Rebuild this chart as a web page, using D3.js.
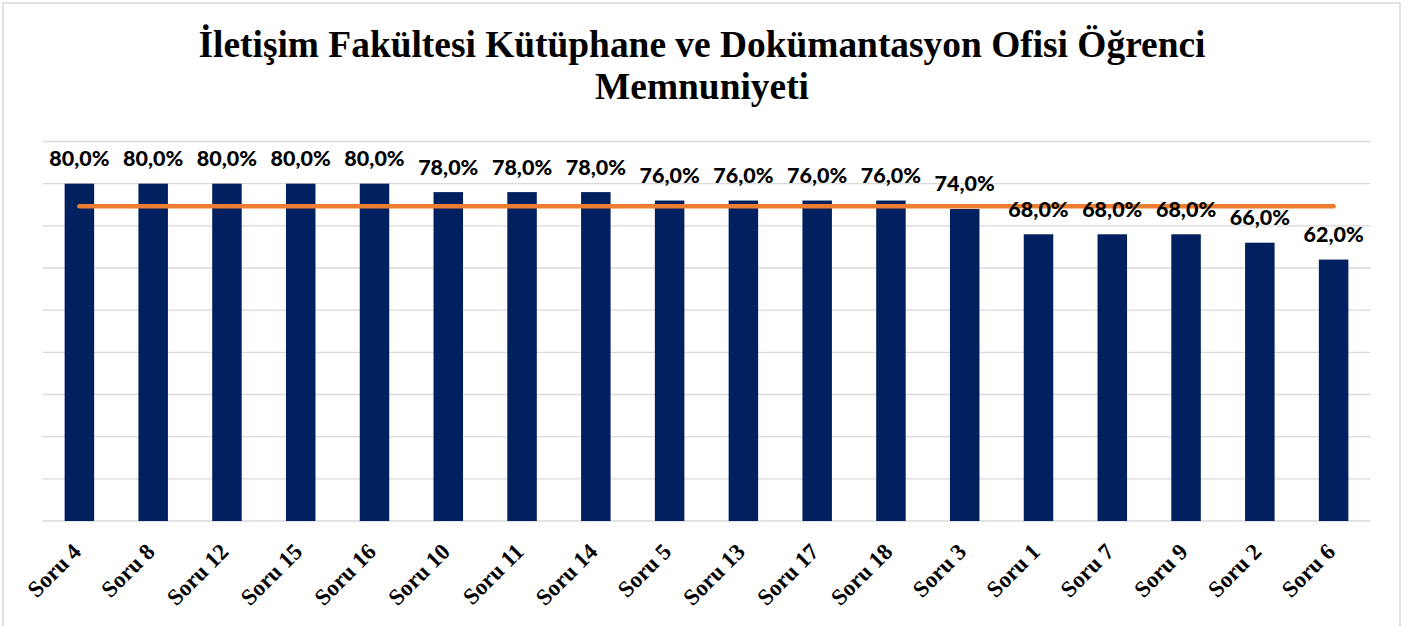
<!DOCTYPE html>
<html><head><meta charset="utf-8">
<script src="https://cdn.jsdelivr.net/npm/d3@7"></script>
<style>html,body{margin:0;padding:0;background:#fff;overflow:hidden}</style>
</head><body>
<svg id="c" width="1409" height="626"></svg>
<script>
const categories = ["Soru 4","Soru 8","Soru 12","Soru 15","Soru 16","Soru 10","Soru 11","Soru 14","Soru 5","Soru 13","Soru 17","Soru 18","Soru 3","Soru 1","Soru 7","Soru 9","Soru 2","Soru 6"];
const values = [80,80,80,80,80,78,78,78,76,76,76,76,74,68,68,68,66,62];
const average = [74.67,74.67,74.67,74.67,74.67,74.67,74.67,74.67,74.67,74.67,74.67,74.67,74.67,74.67,74.67,74.67,74.67,74.67];
const yTicks = [0,10,20,30,40,50,60,70,80,90];
const titleLines = ["İletişim Fakültesi Kütüphane ve Dokümantasyon Ofisi Öğrenci","Memnuniyeti"];

const svg = d3.select("#c");
svg.append("rect").attr("x",3).attr("y",3).attr("width",1397).attr("height",640)
  .attr("fill","#fff").attr("stroke","#d9d9d9").attr("stroke-width",1.5);

const x = d3.scaleBand().domain(categories).range([42.5,1370.5]).paddingInner(0.6).paddingOuter(0.3);
const y = d3.scaleLinear().domain([0,90]).range([521,141.5]);

// gridlines
svg.append("g").selectAll("line").data(yTicks).join("line")
  .attr("x1",42.5).attr("x2",1370.5)
  .attr("y1",d=>y(d)).attr("y2",d=>y(d))
  .attr("stroke","#d9d9d9").attr("stroke-width",1.3);

// bars
svg.append("g").selectAll("rect").data(values).join("rect")
  .attr("x",(d,i)=>x(categories[i])).attr("width",x.bandwidth())
  .attr("y",d=>y(d)).attr("height",d=>y(0)-y(d))
  .attr("fill","#002060");

// average line
const line = d3.line().x((d,i)=>x(categories[i])+x.bandwidth()/2).y(d=>y(d));
svg.append("path").datum(average).attr("d",line)
  .attr("fill","none").attr("stroke","#ED7D31").attr("stroke-width",4.5).attr("stroke-linecap","round");

// data labels
svg.append("g").selectAll("text").data(values).join("text")
  .attr("x",(d,i)=>x(categories[i])+x.bandwidth()/2)
  .attr("y",d=>y(d)-17.5)
  .attr("text-anchor","middle")
  .style("font-family","Lato, 'Liberation Sans', sans-serif").style("font-weight","900").style("font-size","21.5px")
  .attr("fill","#000")
  .text(d=>d.toFixed(1).replace(".",",")+"%");

// x axis labels
svg.append("g").selectAll("text").data(categories).join("text")
  .attr("transform",d=>`translate(${x(d)+x.bandwidth()/2+3},553) rotate(-45)`)
  .attr("text-anchor","end")
  .style("font-family","'Liberation Serif','Times New Roman',serif").style("font-weight","700").style("font-size","23px")
  .attr("fill","#000")
  .text(d=>d);

// title
svg.append("g").selectAll("text").data(titleLines).join("text")
  .attr("x",702).attr("y",(d,i)=>57+i*42)
  .attr("text-anchor","middle")
  .style("font-family","'Liberation Serif','Times New Roman',serif").style("font-weight","700").style("font-size","37.4px")
  .attr("fill","#000")
  .text(d=>d);
</script>
</body></html>
